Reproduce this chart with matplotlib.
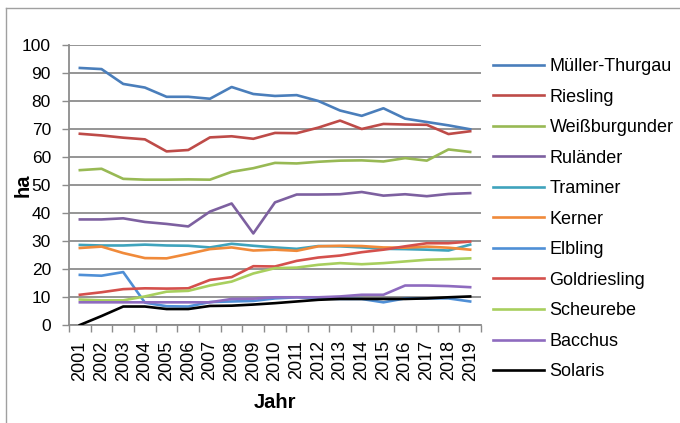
import matplotlib
matplotlib.use("Agg")
import matplotlib.pyplot as plt
from matplotlib.lines import Line2D
import numpy as np

plt.rcParams['font.family'] = ['Liberation Sans', 'DejaVu Sans']

years = [str(y) for y in range(2001, 2020)]

mueller_thurgau = [91.8, 91.4, 86.1, 84.8, 81.5, 81.5, 80.8, 85.0, 82.5, 81.8, 82.1, 80.0, 76.6, 74.7, 77.4, 73.7, 72.5, 71.3, 69.9]
riesling        = [68.3, 67.7, 66.9, 66.3, 62.0, 62.5, 67.0, 67.4, 66.5, 68.6, 68.5, 70.5, 73.0, 70.0, 71.8, 71.6, 71.5, 68.2, 69.2]
weissburgunder  = [55.3, 55.8, 52.2, 51.9, 51.9, 52.0, 51.9, 54.7, 56.0, 57.9, 57.7, 58.3, 58.7, 58.8, 58.4, 59.6, 58.7, 62.7, 61.8]
rulaender       = [37.7, 37.7, 38.1, 36.8, 36.1, 35.2, 40.5, 43.4, 32.7, 43.8, 46.6, 46.6, 46.7, 47.5, 46.2, 46.7, 46.0, 46.8, 47.1]
traminer        = [28.6, 28.4, 28.4, 28.7, 28.4, 28.3, 27.7, 29.0, 28.3, 27.7, 27.2, 28.2, 28.1, 27.7, 27.2, 27.1, 26.9, 26.6, 28.7]
kerner          = [27.5, 28.0, 25.7, 23.9, 23.8, 25.4, 27.1, 27.7, 26.6, 26.9, 26.5, 28.1, 28.3, 28.2, 27.7, 27.6, 28.0, 27.6, 26.9]
elbling         = [17.9, 17.6, 18.9, 8.0, 6.7, 6.6, 8.2, 8.4, 8.6, 9.5, 9.9, 9.5, 9.3, 9.3, 8.1, 9.5, 9.5, 9.5, 8.4]
goldriesling    = [10.8, 11.7, 12.8, 13.1, 13.0, 13.1, 16.1, 17.1, 21.0, 20.9, 22.9, 24.1, 24.8, 26.0, 26.9, 28.1, 29.2, 29.2, 29.8]
scheurebe       = [9.1, 8.8, 8.8, 10.2, 11.9, 12.2, 14.1, 15.5, 18.4, 20.3, 20.5, 21.5, 22.1, 21.7, 22.1, 22.7, 23.3, 23.5, 23.8]
bacchus         = [8.1, 8.1, 8.1, 8.1, 8.1, 8.1, 8.1, 9.3, 9.4, 9.9, 9.9, 9.9, 10.2, 10.8, 10.8, 14.1, 14.1, 13.9, 13.5]
solaris         = [0.0, 3.2, 6.6, 6.6, 5.7, 5.7, 6.8, 6.9, 7.3, 7.8, 8.4, 9.0, 9.3, 9.3, 9.3, 9.3, 9.5, 9.9, 10.2]

series = [
    ("Müller-Thurgau", mueller_thurgau, "#4A7EBB"),
    ("Riesling", riesling, "#BE4B48"),
    ("Weißburgunder", weissburgunder, "#98B954"),
    ("Ruländer", rulaender, "#7D60A0"),
    ("Traminer", traminer, "#3FA3BC"),
    ("Kerner", kerner, "#F08A3A"),
    ("Elbling", elbling, "#4F8FD6"),
    ("Goldriesling", goldriesling, "#D4504C"),
    ("Scheurebe", scheurebe, "#A8CF5E"),
    ("Bacchus", bacchus, "#8E6BBF"),
    ("Solaris", solaris, "#000000"),
]

W, H = 680, 423
fig = plt.figure(figsize=(W / 100, H / 100), dpi=100)
ax = fig.add_axes([69 / W, 1 - 325 / H, (481 - 69) / W, (325 - 45) / H])

x = np.arange(len(years))
for name, vals, col in series:
    ax.plot(x, vals, color=col, lw=1.9, label=name, solid_joinstyle='round', zorder=3)

grid_col = "#8C8C8C"
ax.set_ylim(0, 100)
ax.set_xlim(-0.5, len(years) - 0.5)
ax.set_yticks(range(0, 101, 10))
ax.yaxis.grid(True, color=grid_col, lw=1.3, zorder=0)
ax.set_axisbelow(True)
ax.set_xticks(x)
ax.set_xticklabels(years, rotation=90)
ax.set_xticks(np.arange(-0.5, len(years)), minor=True)
ax.tick_params(axis='x', which='major', length=0, pad=11, labelsize=13)
ax.tick_params(axis='x', which='minor', length=5, color=grid_col, width=1.0, direction='out')
ax.tick_params(axis='y', length=5, color=grid_col, width=1.0, labelsize=12.5, pad=8)
for s in ['top', 'right']:
    ax.spines[s].set_visible(False)
for s in ['left', 'bottom']:
    ax.spines[s].set_color(grid_col)
    ax.spines[s].set_linewidth(1.3)

ax.set_ylabel("ha", fontsize=14.5, fontweight='bold', labelpad=-8)
ax.set_xlabel("Jahr", fontsize=14.5, fontweight='bold', labelpad=9)

leg = ax.legend(loc='upper left', bbox_to_anchor=(493 / W, 1 - 58 / H), bbox_transform=fig.transFigure,
                frameon=False, fontsize=13, handlelength=2.8, handletextpad=0.33,
                labelspacing=0.75, borderaxespad=0, borderpad=0)
for line in leg.get_lines():
    line.set_linewidth(1.9)

# chart area border (left and top visible)
fig.add_artist(Line2D([6 / W, 6 / W], [0, 1 - 8 / H], transform=fig.transFigure, color="#A0A0A0", lw=1.0))
fig.add_artist(Line2D([6 / W, 1], [1 - 8 / H, 1 - 8 / H], transform=fig.transFigure, color="#A0A0A0", lw=1.0))

fig.savefig("out.png", dpi=100)
